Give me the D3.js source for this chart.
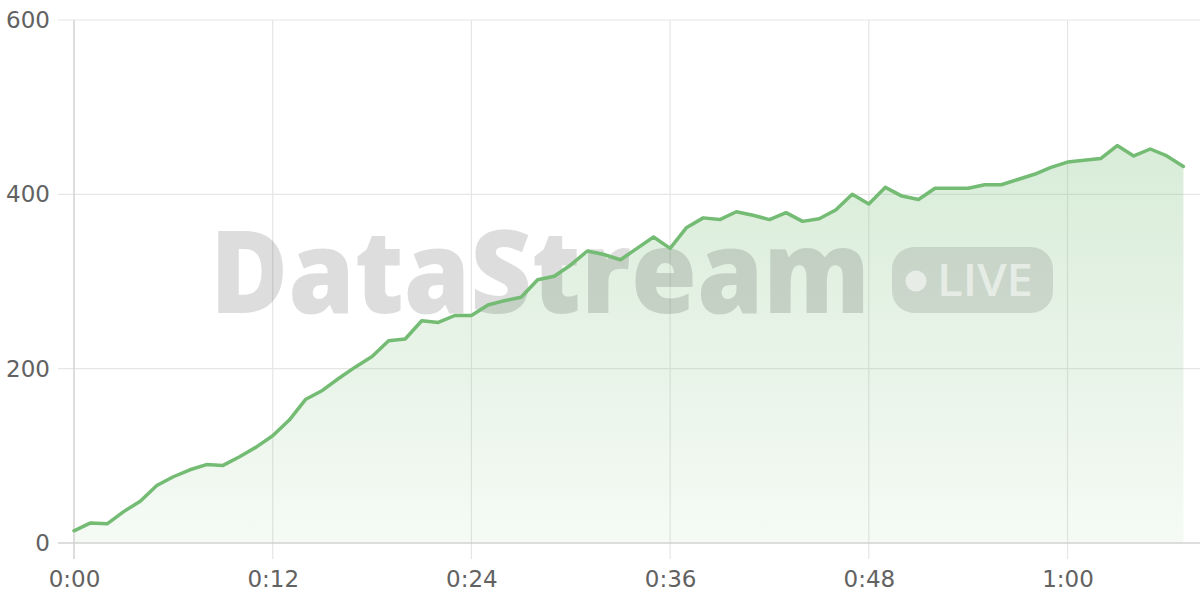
<!DOCTYPE html>
<html>
<head>
<meta charset="utf-8">
<script src="https://cdn.jsdelivr.net/npm/d3@7"></script>
<style>
  html, body { margin: 0; padding: 0; background: #fff; }
  svg { display: block; }
</style>
</head>
<body>
<svg id="chart" width="1200" height="600"></svg>
<script>
// Minutes since start (0..67), one reading per minute
const minutes = d3.range(0, 68);
const values = [14,23,22,36,48,66,76,84,90,89,99,110,123,141,165,175,189,202,214,232,
  234,255,253,261,261,273,278,282,302,306,319,335,331,325,338,351,338,362,373,371,
  380,376,371,379,369,372,382,400,389,408,398,394,407,407,407,411,411,417,423,431,
  437,439,441,456,444,452,444,432];
const xTicks = [0, 12, 24, 36, 48, 60];
const yTicks = [0, 200, 400, 600];
const watermarkText = "DataStream";
const liveText = "LIVE";

const data = minutes.map((m, i) => ({ m, v: values[i] }));

const svg = d3.select("#chart");
const plotLeft = 74, plotRight = 1200, plotTop = 20, plotBottom = 543;

const x = d3.scaleLinear().domain([0, 68]).range([plotLeft, plotRight]);
const y = d3.scaleLinear().domain([0, 600]).range([plotBottom, plotTop]);

const fmt = m => `${Math.floor(m / 60)}:${String(m % 60).padStart(2, "0")}`;

const defs = svg.append("defs");
const grad = defs.append("linearGradient").attr("id", "areaGrad")
  .attr("gradientUnits", "userSpaceOnUse")
  .attr("x1", 0).attr("y1", y(460)).attr("x2", 0).attr("y2", y(0));
grad.append("stop").attr("offset", "0%").attr("stop-color", "#74bb74").attr("stop-opacity", 0.28);
grad.append("stop").attr("offset", "100%").attr("stop-color", "#74bb74").attr("stop-opacity", 0.07);

// Horizontal grid
svg.append("g")
  .selectAll("line").data(yTicks.filter(t => t > 0)).join("line")
  .attr("x1", plotLeft - 16).attr("x2", plotRight)
  .attr("y1", d => y(d)).attr("y2", d => y(d))
  .attr("stroke", "#e6e6e6").attr("stroke-width", 1.2);

// Vertical grid
svg.append("g")
  .selectAll("line").data(xTicks.filter(t => t > 0)).join("line")
  .attr("x1", d => x(d)).attr("x2", d => x(d))
  .attr("y1", plotTop).attr("y2", plotBottom + 16)
  .attr("stroke", "#e6e6e6").attr("stroke-width", 1.2);

// Area
const area = d3.area().x(d => x(d.m)).y0(y(0)).y1(d => y(d.v));
svg.append("path").datum(data).attr("d", area).attr("fill", "url(#areaGrad)");

// Watermark
const wm = svg.append("g").attr("pointer-events", "none");
wm.append("text")
  .attr("x", 210).attr("y", 313)
  .attr("font-family", "'Open Sans', 'Noto Sans', sans-serif")
  .attr("font-weight", 800)
  .attr("font-size", 116)
  .attr("textLength", 660).attr("lengthAdjust", "spacingAndGlyphs")
  .attr("fill", "rgba(0,0,0,0.135)")
  .text(watermarkText);
wm.append("rect")
  .attr("x", 892).attr("y", 247).attr("width", 161).attr("height", 66).attr("rx", 22)
  .attr("fill", "rgba(0,0,0,0.11)");
wm.append("circle").attr("cx", 916).attr("cy", 281).attr("r", 10.5)
  .attr("fill", "rgba(255,255,255,0.55)");
wm.append("text")
  .attr("x", 937).attr("y", 296)
  .attr("font-family", "'Open Sans', 'Noto Sans', sans-serif")
  .attr("font-weight", 600)
  .attr("font-size", 46)
  .attr("textLength", 96).attr("lengthAdjust", "spacingAndGlyphs")
  .attr("fill", "rgba(255,255,255,0.55)")
  .text(liveText);

// Axes lines
svg.append("line").attr("x1", plotLeft).attr("x2", plotLeft).attr("y1", plotTop).attr("y2", plotBottom + 16)
  .attr("stroke", "#d2d2d2").attr("stroke-width", 1.5);
svg.append("line").attr("x1", plotLeft - 16).attr("x2", plotRight).attr("y1", plotBottom).attr("y2", plotBottom)
  .attr("stroke", "#d2d2d2").attr("stroke-width", 1.5);

// Line
const line = d3.line().x(d => x(d.m)).y(d => y(d.v));
svg.append("path").datum(data).attr("d", line)
  .attr("fill", "none").attr("stroke", "#74bb74").attr("stroke-width", 3.5)
  .attr("stroke-linejoin", "round").attr("stroke-linecap", "round");

// Y labels
const yAxis = d3.axisLeft(y).tickValues(yTicks).tickSize(0).tickPadding(24);
const gy = svg.append("g").attr("transform", `translate(${plotLeft},0)`).call(yAxis);
gy.select(".domain").remove();
gy.selectAll("text").attr("font-family", "'DejaVu Sans', sans-serif")
  .attr("font-size", 23).attr("fill", "#626262");

// X labels
const xAxis = d3.axisBottom(x).tickValues(xTicks).tickFormat(fmt).tickSize(0).tickPadding(28);
const gx = svg.append("g").attr("transform", `translate(0,${plotBottom})`).call(xAxis);
gx.select(".domain").remove();
gx.selectAll("text").attr("font-family", "'DejaVu Sans', sans-serif")
  .attr("font-size", 23).attr("fill", "#626262");
</script>
</body>
</html>
